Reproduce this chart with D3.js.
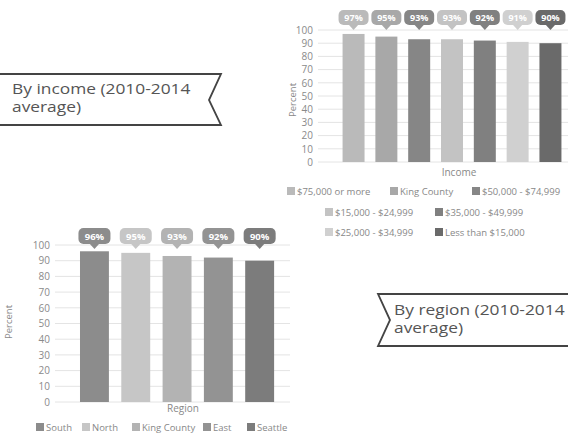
<!DOCTYPE html>
<html>
<head>
<meta charset="utf-8">
<script src="https://cdn.jsdelivr.net/npm/d3@7"></script>
<style>
body { margin: 0; background: #fff; }
text { font-family: "Open Sans", "DejaVu Sans", sans-serif; }
</style>
</head>
<body>
<div id="main"></div>
<script>
var width = 568;
var height = 434;

// income chart data
var incomeCats = ['$75,000 or more', 'King County', '$50,000 - $74,999', '$15,000 - $24,999',
    '$35,000 - $49,999', '$25,000 - $34,999', 'Less than $15,000'];
var incomeVals = [97, 95, 93, 93, 92, 91, 90];
var incomeColors = ['#bababa', '#a8a8a8', '#868686', '#c3c3c3', '#808080', '#d0d0d0', '#6a6a6a'];

// region chart data
var regionCats = ['South', 'North', 'King County', 'East', 'Seattle'];
var regionVals = [96, 95, 93, 92, 90];
var regionColors = ['#8c8c8c', '#c6c6c6', '#b3b3b3', '#939393', '#7c7c7c'];

var yTicks = [0, 10, 20, 30, 40, 50, 60, 70, 80, 90, 100];

var svg = d3.select('#main').append('svg')
    .attr('width', width)
    .attr('height', height);

function drawBanner(pts, lines, tx, ty, lh) {
    var g = svg.append('g');
    g.append('path')
        .attr('d', d3.line()(pts))
        .attr('fill', 'none')
        .attr('stroke', '#444')
        .attr('stroke-width', 1.8);
    lines.forEach(function(t, i) {
        g.append('text')
            .attr('transform', `translate(${tx}, ${ty + i * lh}) scale(1.24, 1)`)
            .attr('font-size', 14)
            .attr('font-family', '"Liberation Sans", Arial, sans-serif')
            .attr('fill', '#555')
            .text(t);
    });
}

function drawChart(cfg) {
    var x = d3.scaleBand()
        .domain(cfg.cats)
        .range(cfg.xRange)
        .paddingInner(cfg.padIn)
        .paddingOuter(cfg.padOut);
    var y = d3.scaleLinear().domain([0, 100]).range(cfg.yRange);
    var color = d3.scaleOrdinal().domain(cfg.cats).range(cfg.colors);

    var g = svg.append('g');

    // grid
    g.selectAll('.grid')
        .data(yTicks)
        .enter()
        .append('line')
        .attr('x1', cfg.gridX[0])
        .attr('x2', cfg.gridX[1])
        .attr('y1', function(d) { return y(d); })
        .attr('y2', function(d) { return y(d); })
        .attr('stroke', '#e4e4e4')
        .attr('stroke-width', 1);

    var axis = d3.axisLeft(y).tickValues(yTicks).tickSize(0).tickPadding(0);
    var ax = g.append('g')
        .attr('transform', `translate(${cfg.tickX}, 0)`)
        .call(axis);
    ax.select('.domain').remove();
    ax.selectAll('text')
        .attr('font-size', cfg.tickFont)
        .attr('fill', '#8a8a8a')
        .attr('font-family', '"Open Sans", sans-serif');

    g.append('text')
        .attr('transform', `translate(${cfg.pctX}, ${cfg.pctY}) rotate(-90)`)
        .attr('text-anchor', 'middle')
        .attr('font-size', 9.5)
        .attr('fill', '#888')
        .text('Percent');

    var data = cfg.cats.map(function(c, i) { return {cat: c, val: cfg.vals[i]}; });

    g.selectAll('.bar')
        .data(data)
        .enter()
        .append('rect')
        .attr('class', 'bar')
        .attr('x', function(d) { return x(d.cat); })
        .attr('width', x.bandwidth())
        .attr('y', function(d) { return y(d.val); })
        .attr('height', function(d) { return y(0) - y(d.val); })
        .attr('fill', function(d) { return color(d.cat); });

    // bubble labels
    var bw = cfg.bubbleW, bh = cfg.bubbleH;
    var bub = g.selectAll('.bub')
        .data(data)
        .enter()
        .append('g')
        .attr('transform', function(d) {
            return `translate(${x(d.cat) + x.bandwidth() / 2}, ${cfg.bubbleY})`;
        });
    bub.append('rect')
        .attr('x', -bw / 2)
        .attr('y', 0)
        .attr('width', bw)
        .attr('height', bh)
        .attr('rx', 5)
        .attr('fill', function(d) { return color(d.cat); });
    bub.append('path')
        .attr('d', `M-5,${bh - 0.5}L0,${bh + 5}L5,${bh - 0.5}Z`)
        .attr('fill', function(d) { return color(d.cat); });
    bub.append('text')
        .attr('x', 0)
        .attr('y', bh / 2 + 3.5)
        .attr('text-anchor', 'middle')
        .attr('font-size', cfg.bubbleFont)
        .attr('font-weight', 'bold')
        .attr('fill', '#fff')
        .text(function(d) { return d.val + '%'; });

    g.append('text')
        .attr('x', cfg.titleX)
        .attr('y', cfg.titleY)
        .attr('text-anchor', 'middle')
        .attr('font-size', 10)
        .attr('fill', '#888')
        .text(cfg.title);

    // legend
    var leg = g.selectAll('.leg')
        .data(cfg.legendPos)
        .enter()
        .append('g')
        .attr('transform', function(d) { return `translate(${d[0]}, ${d[1]})`; });
    leg.append('rect')
        .attr('x', 0)
        .attr('y', -8)
        .attr('width', 8)
        .attr('height', 8)
        .attr('fill', function(d, i) { return color(cfg.cats[i]); });
    leg.append('text')
        .attr('x', 10)
        .attr('y', 0)
        .attr('font-size', cfg.legFont)
        .attr('fill', '#888')
        .text(function(d, i) { return cfg.cats[i]; });
}

drawChart({
    cats: incomeCats,
    vals: incomeVals,
    colors: incomeColors,
    xRange: [336, 568],
    padIn: 0.33,
    padOut: 0.2,
    yRange: [162, 30],
    gridX: [318, 568],
    tickX: 313,
    tickFont: 10,
    pctX: 296,
    pctY: 100,
    bubbleW: 30,
    bubbleH: 15,
    bubbleY: 10,
    bubbleFont: 9,
    title: 'Income',
    titleX: 459,
    titleY: 176,
    legFont: 9.5,
    legendPos: [[287, 195], [390, 195], [472, 195], [325, 216], [435, 216], [325, 236], [435, 236]]
});

drawChart({
    cats: regionCats,
    vals: regionVals,
    colors: regionColors,
    xRange: [67.6, 286.5],
    padIn: 0.3,
    padOut: 0.3,
    yRange: [402, 245],
    gridX: [55, 290],
    tickX: 50,
    tickFont: 10,
    pctX: 12,
    pctY: 322,
    bubbleW: 32,
    bubbleH: 16,
    bubbleY: 228,
    bubbleFont: 9.5,
    title: 'Region',
    titleX: 183,
    titleY: 412,
    legFont: 9.5,
    legendPos: [[36, 431], [82, 431], [132, 431], [203, 431], [247, 431]]
});

drawBanner([[-5, 74], [221, 74], [209, 100], [221, 125], [-5, 125]],
    ['By income (2010-2014', 'average)'], 12, 94, 18);
drawBanner([[575, 294], [378, 294], [390, 320], [378, 346], [575, 346]],
    ['By region (2010-2014', 'average)'], 394, 315, 18);
</script>
</body>
</html>
